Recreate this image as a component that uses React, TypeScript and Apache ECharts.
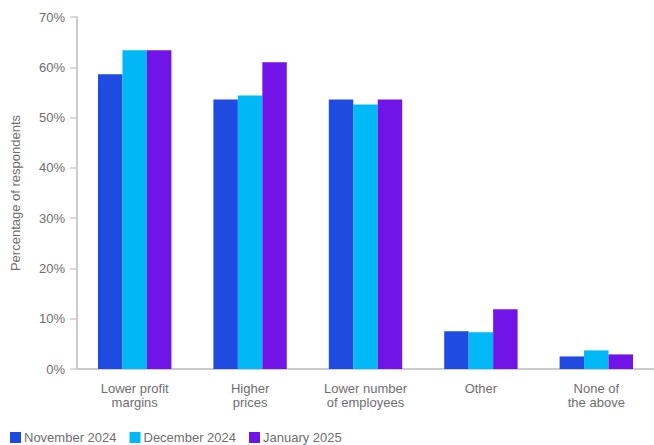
import React, { useEffect, useRef } from "react";
import * as echarts from "echarts";

const categories = ["Lower profit\nmargins", "Higher\nprices", "Lower number\nof employees", "Other", "None of\nthe above"];
const seriesNames = ["November 2024", "December 2024", "January 2025"];
const nov2024 = [58.6, 53.6, 53.6, 7.5, 2.5];
const dec2024 = [63.4, 54.4, 52.6, 7.3, 3.7];
const jan2025 = [63.4, 61.0, 53.6, 11.9, 2.9];
const colors = ["#1F4BE0", "#00B8F5", "#7114E8"];
const yTicks = [0, 10, 20, 30, 40, 50, 60, 70];

export default function App() {
  const ref = useRef<HTMLDivElement>(null);
  useEffect(() => {
    if (!ref.current) return;
    const chart = echarts.init(ref.current, null, { renderer: "svg" });
    const font = "'Liberation Sans', Arial, sans-serif";
    const data = [nov2024, dec2024, jan2025];
    chart.setOption({
      animation: false,
      textStyle: { fontFamily: font },
      grid: { left: 77, right: 0, top: 17, bottom: 76, containLabel: false },
      legend: {
        left: 10,
        top: 431,
        padding: 0,
        itemWidth: 11,
        itemHeight: 11,
        itemGap: 13,
        icon: "rect",
        textStyle: { fontSize: 13, color: "#6e6e6e", fontFamily: font, padding: [0, 0, 0, -2] },
        data: seriesNames,
      },
      xAxis: {
        type: "category",
        data: categories,
        axisLine: { lineStyle: { color: "#cccccc", width: 2 } },
        axisTick: { show: false },
        axisLabel: { color: "#6e6e6e", fontSize: 13, lineHeight: 14, margin: 12, fontFamily: font },
      },
      yAxis: {
        type: "value",
        min: yTicks[0],
        max: yTicks[yTicks.length - 1],
        interval: 10,
        name: "Percentage of respondents",
        nameLocation: "middle",
        nameGap: 55,
        nameTextStyle: { color: "#6e6e6e", fontSize: 13, fontFamily: font },
        axisLine: { show: true, lineStyle: { color: "#cccccc", width: 2 } },
        axisTick: { show: true, length: 7, lineStyle: { color: "#cccccc", width: 1.5 } },
        splitLine: { show: false },
        axisLabel: { color: "#6e6e6e", fontSize: 13, margin: 12, formatter: "{value}%", fontFamily: font },
      },
      series: seriesNames.map((name, i) => ({
        name,
        type: "bar",
        data: data[i],
        barWidth: "21.2%",
        barGap: "0%",
        itemStyle: { color: colors[i] },
      })),
    });
    return () => chart.dispose();
  }, []);
  return <div ref={ref} style={{ width: 654, height: 445, position: "absolute", left: 0, top: 0 }} />;
}
